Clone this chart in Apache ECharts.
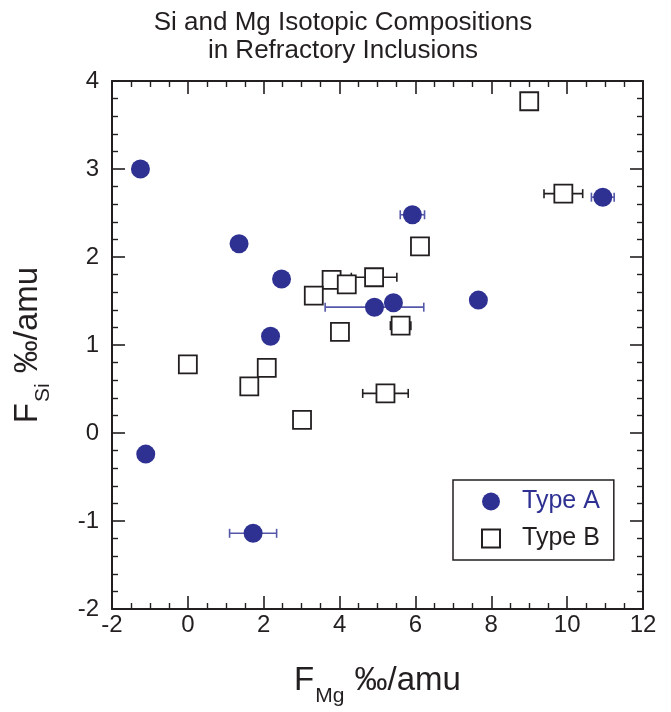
<!DOCTYPE html>
<html>
<head>
<meta charset="utf-8">
<script src="https://cdn.jsdelivr.net/npm/echarts@6/dist/echarts.min.js"></script>
<style>html,body{margin:0;padding:0;background:#fff;}#c{width:671px;height:712px;}</style>
</head>
<body>
<div id="c"></div>
<script>
// Type A (filled circles): [F_Mg, F_Si]
const typeA = [
  [-1.25, 3.00], [1.35, 2.15], [2.47, 1.75], [2.18, 1.10], [4.92, 1.43],
  [5.42, 1.48], [5.92, 2.48], [7.66, 1.51], [10.94, 2.68], [-1.11, -0.24], [1.72, -1.14]
];
// Type A horizontal error bars: [F_Mg, F_Si, halfWidth]
const typeAErr = [
  [4.92, 1.43, 1.30], [5.92, 2.48, 0.32], [10.94, 2.68, 0.30], [1.72, -1.14, 0.62]
];
// Type B (open squares)
const typeB = [
  [9.00, 3.77], [9.90, 2.72], [6.12, 2.12], [4.91, 1.77], [3.79, 1.74],
  [4.19, 1.69], [3.32, 1.56], [4.01, 1.15], [5.61, 1.22], [0.00, 0.78],
  [2.08, 0.74], [1.62, 0.53], [3.01, 0.15], [5.21, 0.45]
];
const typeBErr = [
  [9.90, 2.72, 0.51], [4.91, 1.77, 0.60], [5.61, 1.22, 0.27], [5.21, 0.45, 0.60]
];
const xTicks = { min: -2, max: 12, interval: 2 };
const yTicks = { min: -2, max: 4, interval: 1 };

const ink = '#231f20';
const blue = '#2e3192';
const font = '"Liberation Sans", Arial, Helvetica, sans-serif';

function errRender(color) {
  return function (params, api) {
    const x = api.value(0), y = api.value(1), e = api.value(2);
    const a = api.coord([x - e, y]);
    const b = api.coord([x + e, y]);
    const h = 4.5;
    const st = { stroke: color, lineWidth: 1.6 };
    return {
      type: 'group',
      children: [
        { type: 'line', shape: { x1: a[0], y1: a[1], x2: b[0], y2: b[1] }, style: st },
        { type: 'line', shape: { x1: a[0], y1: a[1] - h, x2: a[0], y2: a[1] + h }, style: st },
        { type: 'line', shape: { x1: b[0], y1: b[1] - h, x2: b[0], y2: b[1] + h }, style: st }
      ]
    };
  };
}

function axisCommon(showLabels, margin, split) {
  return {
    axisLine: { show: true, onZero: false, lineStyle: { color: ink, width: 2 } },
    axisTick: { show: true, inside: true, length: 13, lineStyle: { color: ink, width: 1.6 } },
    minorTick: { show: true, splitNumber: split, length: 6, lineStyle: { color: ink, width: 1.4 } },
    splitLine: { show: false },
    axisLabel: { show: showLabels, margin: margin, color: ink, fontSize: 24, fontFamily: font }
  };
}

const chart = echarts.init(document.getElementById('c'), null, { renderer: 'canvas' });
const rich = {
  b: { fontSize: 33, fontFamily: font, color: ink, verticalAlign: 'top', lineHeight: 35 },
  s: { fontSize: 21, fontFamily: font, color: ink, verticalAlign: 'top', lineHeight: 21, padding: [22, 1, 0, 1] }
};

chart.setOption({
  backgroundColor: '#fff',
  animation: false,
  title: {
    text: 'Si and Mg Isotopic Compositions\nin Refractory Inclusions',
    left: 338, textAlign: 'center', top: 4,
    textStyle: { fontSize: 26, fontWeight: 'normal', color: ink, fontFamily: font, lineHeight: 28 }
  },
  grid: { left: 112, right: 28, top: 81, bottom: 101, containLabel: false },
  legend: {
    left: 453, top: 480, orient: 'vertical',
    borderColor: ink, borderWidth: 1.5,
    padding: [9, 14, 9, 28],
    itemWidth: 18, itemHeight: 18, itemGap: 12,
    textStyle: { fontSize: 25, fontFamily: font, color: ink, padding: [0, 0, 0, 17] },
    data: [
      { name: 'Type A', icon: 'circle', textStyle: { color: blue } },
      { name: 'Type B', icon: 'rect' }
    ]
  },
  xAxis: [
    Object.assign({
      type: 'value', min: xTicks.min, max: xTicks.max, interval: xTicks.interval, position: 'bottom',
      name: '{b|F}{s|Mg}{b| ‰/amu}', nameLocation: 'middle', nameGap: 55,
      nameTextStyle: { rich: rich }
    }, axisCommon(true, 4, 4)),
    Object.assign({
      type: 'value', min: xTicks.min, max: xTicks.max, interval: xTicks.interval, position: 'top'
    }, axisCommon(false, 4, 4))
  ],
  yAxis: [
    Object.assign({
      type: 'value', min: yTicks.min, max: yTicks.max, interval: yTicks.interval, position: 'left',
      name: '{b|F}{s|Si}{b| ‰/amu}', nameLocation: 'middle', nameGap: 66, nameRotate: 90,
      nameTextStyle: { rich: rich }
    }, axisCommon(true, 13, 5)),
    Object.assign({
      type: 'value', min: yTicks.min, max: yTicks.max, interval: yTicks.interval, position: 'right'
    }, axisCommon(false, 13, 5))
  ],
  series: [
    {
      name: 'errB', type: 'custom', xAxisIndex: 0, yAxisIndex: 0, z: 2,
      renderItem: errRender(ink), encode: { x: 0, y: 1 }, data: typeBErr, silent: true
    },
    {
      name: 'Type B', type: 'scatter', xAxisIndex: 0, yAxisIndex: 0, z: 3,
      symbol: 'rect', symbolSize: 18,
      itemStyle: { color: '#fff', borderColor: ink, borderWidth: 1.8, opacity: 1 },
      data: typeB
    },
    {
      name: 'errA', type: 'custom', xAxisIndex: 0, yAxisIndex: 0, z: 4,
      renderItem: errRender('#5558a8'), encode: { x: 0, y: 1 }, data: typeAErr, silent: true
    },
    {
      name: 'Type A', type: 'scatter', xAxisIndex: 0, yAxisIndex: 0, z: 5,
      symbol: 'circle', symbolSize: 19,
      itemStyle: { color: blue, opacity: 1 },
      data: typeA
    }
  ]
});
</script>
</body>
</html>
